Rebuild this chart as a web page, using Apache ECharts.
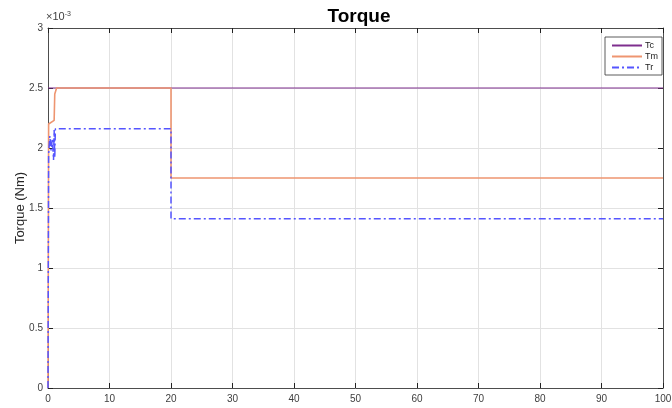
<!DOCTYPE html>
<html><head><meta charset="utf-8">
<script src="https://cdn.jsdelivr.net/npm/echarts@6/dist/echarts.min.js"></script>
<style>html,body{margin:0;padding:0;background:#fff}#c{width:672px;height:408px}</style>
</head><body><div id="c"></div>
<script>
// values in units of 1e-3 Nm
const tcTime = [0, 100];
const tcVal  = [2.5, 2.5];
const tmTime = [0, 0.1, 0.3, 1.0, 1.1, 1.4, 20, 20, 100];
const tmVal  = [0, 2.2, 2.21, 2.23, 2.45, 2.5, 2.5, 1.75, 1.75];
const trTime = [0, 0.1, 0.3, 0.5, 0.7, 0.9, 1.0, 1.1, 1.2, 20, 20, 100];
const trVal  = [0, 1.95, 2.1, 1.98, 2.08, 1.9, 2.15, 1.92, 2.16, 2.16, 1.41, 1.41];
const xTicks = [0,10,20,30,40,50,60,70,80,90,100];
const yTicks = [0,0.5,1,1.5,2,2.5,3];
const yAxisTitle = 'Torque (Nm)';

const pair = (t, v) => t.map((x, i) => [x, v[i]]);
const chart = echarts.init(document.getElementById('c'), null, {renderer: 'canvas'});
const axisCol = '#4d4d4d';
const ff = 'Liberation Sans, Arial, sans-serif';
const lbl = {color: '#404040', fontSize: 10, fontFamily: ff};
const tick = {show: true, inside: true, length: 5, lineStyle: {color: '#222'}};
chart.setOption({
  animation: false,
  title: {text: 'Torque', left: 354, top: 2, textAlign: 'center',
    textStyle: {fontSize: 19, fontWeight: 'bold', color: '#000', fontFamily: ff}},
  grid: {left: 48, right: 9, top: 28, bottom: 20, containLabel: false, outerBoundsMode: 'none'},
  legend: {
    orient: 'vertical', right: 10, top: 37, itemWidth: 30, itemHeight: 6, itemGap: 2,
    padding: [4, 4, 3, 6], borderColor: '#333', borderWidth: 0.8, backgroundColor: '#fff',
    itemStyle: {opacity: 0},
    textStyle: {fontSize: 9, color: '#222', padding: [0,0,0,-2], fontFamily: ff},
    data: ['Tc', 'Tm', 'Tr']
  },
  graphic: [
    {type: 'text', left: 46, top: 11, style: {
      text: '×10{s|-3}', rich: {s: {fontSize: 7, verticalAlign: 'top', lineHeight: 8, padding: [0,0,6,0], fill: '#404040'}},
      fontSize: 11, fill: '#404040', fontFamily: ff}},
    {type: 'text', x: 20, y: 208, rotation: Math.PI / 2, style: {
      text: yAxisTitle, fontSize: 13, fill: '#262626', fontFamily: ff,
      align: 'center', verticalAlign: 'middle'}}
  ],
  xAxis: [
    {type: 'value', min: 0, max: 100, interval: 10, position: 'bottom',
     axisLine: {onZero: false, lineStyle: {color: axisCol, width: 1}},
     axisTick: tick,
     axisLabel: Object.assign({margin: 6, formatter: v => xTicks.includes(v) ? String(v) : ''}, lbl),
     splitLine: {show: true, lineStyle: {color: '#e2e2e2', width: 1}}},
    {type: 'value', min: 0, max: 100, interval: 10, position: 'top',
     axisLine: {show: true, onZero: false, lineStyle: {color: axisCol}},
     axisTick: tick, axisLabel: {show: false}, splitLine: {show: false}}
  ],
  yAxis: [
    {type: 'value', min: 0, max: 3, interval: 0.5, position: 'left',
     axisLine: {show: true, onZero: false, lineStyle: {color: axisCol}},
     axisTick: tick,
     axisLabel: Object.assign({margin: 5, formatter: v => yTicks.includes(v) ? String(v) : ''}, lbl),
     splitLine: {show: true, lineStyle: {color: '#e2e2e2', width: 1}}},
    {type: 'value', min: 0, max: 3, interval: 0.5, position: 'right',
     axisLine: {show: true, onZero: false, lineStyle: {color: axisCol}},
     axisTick: tick, axisLabel: {show: false}, splitLine: {show: false}}
  ],
  series: [
    {name: 'Tc', type: 'line', data: pair(tcTime, tcVal), showSymbol: false, symbol: 'none',
     lineStyle: {color: '#7E2F8E', width: 1.2}, itemStyle: {color: '#7E2F8E'}},
    {name: 'Tm', type: 'line', data: pair(tmTime, tmVal), showSymbol: false, symbol: 'none',
     lineStyle: {color: '#EE9570', width: 1.6}, itemStyle: {color: '#EE9570'}},
    {name: 'Tr', type: 'line', data: pair(trTime, trVal), showSymbol: false, symbol: 'none',
     lineStyle: {color: '#5555FF', width: 1.5, type: [7, 3, 2, 3]}, itemStyle: {color: '#5555FF'}}
  ]
});
</script></body></html>
